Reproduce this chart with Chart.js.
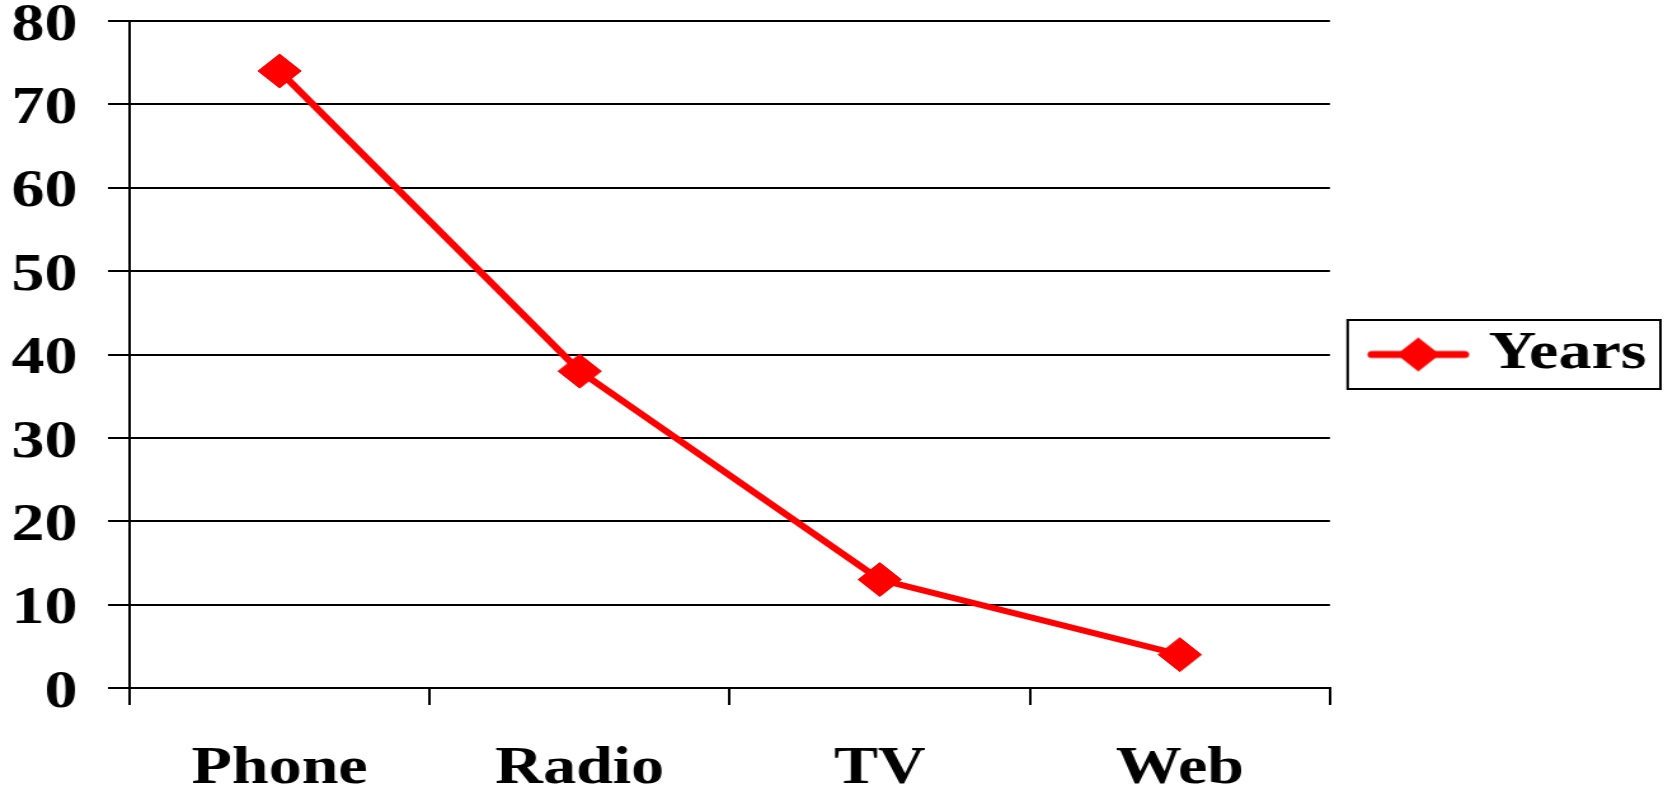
<!DOCTYPE html>
<html>
<head>
<meta charset="utf-8">
<title>Years</title>
<script src="https://cdn.jsdelivr.net/npm/chart.js@4"></script>
<style>
  html, body { margin: 0; padding: 0; background: #fff; overflow: hidden; }
  /* the chart is laid out narrower and widened sideways, like a stretched slide */
  #wrap { width: 1313px; height: 790px; transform: scaleX(1.2704); transform-origin: 0 0; }
</style>
</head>
<body>
<div id="wrap"><canvas id="chart" width="1313" height="790"></canvas></div>
<script>
const categories = ["Phone", "Radio", "TV", "Web"];
const years = [74, 38, 13, 4];
const yTicks = [0, 10, 20, 30, 40, 50, 60, 70, 80];

const RED = "#ff0000";
const serif = "'Liberation Serif', 'Times New Roman', serif";
const labelFont = { family: serif, size: 52, weight: "bold" };
// y labels sit a little below their grid line: an empty first line with a tight line height nudges them down
const yLabelFont = { family: serif, size: 52, weight: "bold", lineHeight: 0.2 };

// legend icon: short line with a diamond in the middle
const legendIcon = document.createElement("canvas");
legendIcon.width = 81;
legendIcon.height = 40;
(function () {
    const c = legendIcon.getContext("2d");
    c.strokeStyle = RED;
    c.fillStyle = RED;
    c.lineWidth = 7;
    c.lineCap = "round";
    c.beginPath();
    c.moveTo(4, 20);
    c.lineTo(77, 20);
    c.stroke();
    c.beginPath();
    c.moveTo(40.5 - 17, 20);
    c.lineTo(40.5, 3);
    c.lineTo(40.5 + 17, 20);
    c.lineTo(40.5, 37);
    c.closePath();
    c.fill();
})();

// frame drawn around the legend entry
const legendFrame = {
    id: "legendFrame",
    afterDraw(chart) {
        const hb = chart.legend && chart.legend.legendHitBoxes && chart.legend.legendHitBoxes[0];
        if (!hb) return;
        const ctx = chart.ctx;
        const cy = hb.top + hb.height / 2;
        ctx.save();
        ctx.strokeStyle = "#000";
        ctx.lineWidth = 2;
        ctx.strokeRect(hb.left - 26, cy - 34.5, hb.width + 37, 69);
        ctx.restore();
    }
};

new Chart(document.getElementById("chart"), {
    type: "line",
    data: {
        labels: categories,
        datasets: [{
            label: "Years",
            data: years,
            borderColor: RED,
            backgroundColor: RED,
            borderWidth: 6,
            tension: 0,
            pointStyle: "rectRot",
            pointRadius: 17,
            pointBackgroundColor: RED,
            pointBorderColor: RED,
            pointBorderWidth: 1,
            clip: false
        }]
    },
    options: {
        responsive: false,
        animation: false,
        devicePixelRatio: 1,
        layout: { padding: { left: 0, top: 21, right: 7, bottom: 0 } },
        scales: {
            x: {
                type: "category",
                offset: true,
                grid: {
                    offset: true,
                    drawOnChartArea: true,
                    color: ctx => ctx.index === categories.length ? "#000" : "rgba(0,0,0,0)",
                    tickColor: "#000",
                    lineWidth: 2,
                    tickLength: 17
                },
                border: { display: true, color: "#000", width: 2 },
                ticks: { color: "#000", font: labelFont, padding: 33, maxRotation: 0 },
                afterFit(scale) {
                    scale.height = 102;
                    scale.paddingLeft = 0;
                    scale.paddingRight = 0;
                }
            },
            y: {
                min: yTicks[0],
                max: yTicks[yTicks.length - 1],
                afterBuildTicks(scale) {
                    scale.ticks = yTicks.map(v => ({ value: v }));
                },
                grid: { color: "#000", lineWidth: 2, tickLength: 17 },
                border: { display: true, color: "#000", width: 2 },
                ticks: {
                    color: "#000",
                    font: yLabelFont,
                    padding: 24,
                    callback: value => ["", String(value)]
                },
                afterFit(scale) {
                    scale.width = 102;
                    scale.paddingTop = 0;
                    scale.paddingBottom = 0;
                }
            }
        },
        plugins: {
            legend: {
                position: "right",
                fullSize: false,
                align: "center",
                labels: {
                    usePointStyle: true,
                    pointStyle: legendIcon,
                    pointStyleWidth: 59,
                    padding: 40,
                    color: "#000",
                    font: labelFont
                }
            },
            tooltip: { enabled: false }
        }
    },
    plugins: [legendFrame]
});
</script>
</body>
</html>
